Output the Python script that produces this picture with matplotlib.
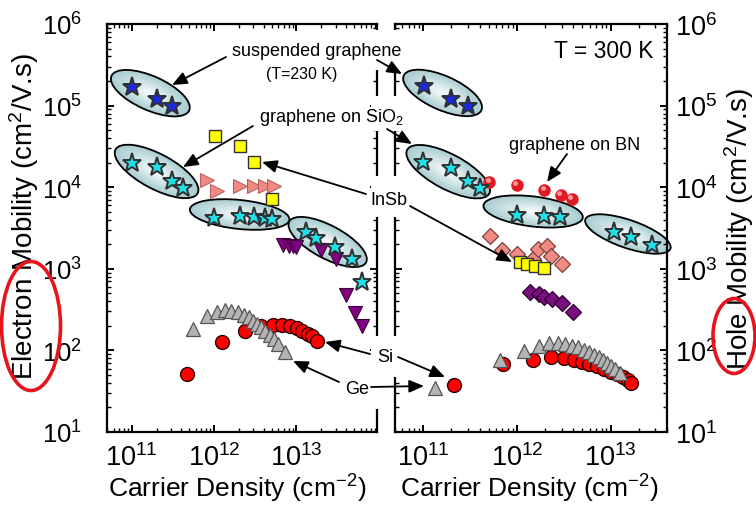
import numpy as np
import matplotlib
matplotlib.use('Agg')
import matplotlib.pyplot as plt
from matplotlib.patches import Ellipse, Rectangle, FancyArrowPatch
from matplotlib.transforms import IdentityTransform, ScaledTranslation
from matplotlib.colors import to_rgb

plt.rcParams['font.family'] = ['Liberation Sans', 'DejaVu Sans']
plt.rcParams['mathtext.fontset'] = 'custom'
plt.rcParams['mathtext.rm'] = 'Liberation Sans'
plt.rcParams['mathtext.it'] = 'Liberation Sans:italic'
plt.rcParams['mathtext.bf'] = 'Liberation Sans:bold'

# ---------------- data: electrons (left panel) ----------------
e_susp_n = [1.0e11, 2.05e11, 3.05e11]
e_susp_mu = [1.67e5, 1.2e5, 9.8e4]
e_sio2_n = [1.0e11, 2.05e11, 3.1e11, 4.2e11]
e_sio2_mu = [1.98e4, 1.75e4, 1.2e4, 9.8e3]
e_bn_n = [1.0e12, 2.04e12, 3.04e12, 4.1e12, 5.1e12]
e_bn_mu = [4.2e3, 4.4e3, 4.3e3, 4.2e3, 4.07e3]
e_hd_n = [1.32e13, 1.75e13, 2.9e13, 4.67e13, 6.3e13]
e_hd_mu = [2.82e3, 2.38e3, 1.85e3, 1.32e3, 6.9e2]
e_insb_n = [1.02e12, 2.06e12, 3.04e12, 5.08e12]
e_insb_mu = [4.2e4, 3.2e4, 2.05e4, 7.2e3]
e_pink_n = [8.2e11, 1.07e12, 2.04e12, 3.04e12, 4.1e12, 5.27e12]
e_pink_mu = [1.22e4, 9.1e3, 1.03e4, 1.03e4, 1.03e4, 1.03e4]
e_purp_n = [6.8e12, 8.1e12, 9.0e12, 1.0e13, 2.0e13, 3.0e13, 4.0e13, 5.1e13, 6.2e13]
e_purp_mu = [1.95e3, 1.92e3, 1.88e3, 1.85e3, 1.7e3, 1.32e3, 4.8e2, 2.9e2, 1.97e2]
e_ge_n = [5.47e11, 8.1e11, 1.07e12, 1.35e12, 1.62e12, 1.95e12, 2.3e12, 2.62e12,
          2.96e12, 3.35e12, 3.74e12, 4.18e12, 4.71e12, 5.27e12, 5.94e12, 7.16e12]
e_ge_mu = [183, 266, 293, 313, 308, 293, 274, 255, 231, 211, 192, 174, 155, 138, 120, 95]
e_si_n = [4.63e11, 1.25e12, 2.35e12, 3.74e12, 5.17e12, 6.71e12, 8.4e12, 1.01e13,
          1.17e13, 1.37e13, 1.55e13, 1.78e13]
e_si_mu = [51, 126, 174, 201, 207, 205, 197, 187, 174, 159, 149, 131]

# ---------------- data: holes (right panel) ----------------
h_susp_n = [1.01e11, 1.99e11, 2.98e11]
h_susp_mu = [1.73e5, 1.2e5, 9.8e4]
h_sio2_n = [1.0e11, 2.0e11, 3.0e11, 4.0e11]
h_sio2_mu = [2.02e4, 1.72e4, 1.2e4, 9.8e3]
h_bn_n = [1.0e12, 1.97e12, 2.9e12]
h_bn_mu = [4.6e3, 4.4e3, 4.27e3]
h_hd_n = [1.08e13, 1.67e13, 2.8e13]
h_hd_mu = [2.86e3, 2.43e3, 1.93e3]
h_red_n = [5.08e11, 1.0e12, 1.97e12, 2.96e12, 3.9e12]
h_red_mu = [1.15e4, 1.06e4, 9.2e3, 8.1e3, 7.2e3]
h_pink_n = [5.2e11, 6.9e11, 1.0e12, 1.5e12, 1.7e12, 2.08e12, 2.3e12, 3.0e12]
h_pink_mu = [2.55e3, 1.71e3, 1.52e3, 1.32e3, 1.73e3, 1.92e3, 1.45e3, 1.15e3]
h_insb_n = [1.08e12, 1.28e12, 1.57e12, 1.95e12]
h_insb_mu = [1.2e3, 1.15e3, 1.07e3, 1.01e3]
h_purp_n = [1.38e12, 1.74e12, 1.95e12, 2.39e12, 3.0e12, 4.0e12]
h_purp_mu = [524, 491, 455, 427, 381, 298]
h_ge_n = [1.32e11, 6.6e11, 1.18e12, 1.74e12, 2.22e12, 2.73e12, 3.27e12, 3.85e12, 4.52e12,
          5.2e12, 5.87e12, 6.64e12, 7.5e12, 8.3e12, 9.1e12, 1.0e13, 1.11e13, 1.26e13]
h_ge_mu = [35, 76, 99, 112, 122, 122, 120, 114, 109, 102, 95, 89, 83, 76, 70, 64, 59, 53]
h_si_n = [2.12e11, 7.1e11, 1.47e12, 2.32e12, 3.2e12, 4.1e12, 4.9e12, 5.9e12, 7.15e12,
          8.5e12, 1.0e13, 1.17e13, 1.35e13, 1.53e13, 1.67e13]
h_si_mu = [38, 68, 77, 82, 80, 76, 73, 68, 64, 60, 55, 51, 47, 43.5, 40]

# highlight ellipses: centre (n, mu)
e_ell_n = [1.68e11, 2.0e11, 2.04e12, 2.39e13]
e_ell_mu = [1.42e5, 1.56e4, 4.63e3, 2.13e3]
h_ell_n = [1.61e11, 1.85e11, 1.49e12, 1.53e13]
h_ell_mu = [1.43e5, 1.55e4, 5.04e3, 2.67e3]
# sizes (px) and tilt (deg)
e_ell_shape = [(85, 34, -24), (93, 35, -28), (100, 29, -6), (87, 33, -28)]
h_ell_shape = [(85, 34, -24), (93, 35, -28), (100, 30, -7), (90, 28, -19)]

W, H = 756, 506
fig = plt.figure(figsize=(W / 100, H / 100), dpi=100)
ax1 = fig.add_axes([107 / W, 1 - 433 / H, 270 / W, 408 / H])
ax2 = fig.add_axes([395 / W, 1 - 433 / H, 272 / W, 408 / H])

for ax in (ax1, ax2):
    ax.set_xscale('log')
    ax.set_yscale('log')
    ax.set_ylim(10, 1e6)
    for s in ax.spines.values():
        s.set_linewidth(1.6)
    ax.tick_params(which='both', direction='in', top=True, bottom=True,
                   left=True, right=True, labelsize=19.5)
    ax.tick_params(which='major', length=5, width=1.4)
    ax.tick_params(which='minor', length=2.6, width=1.0)
    ax.tick_params(axis='x', pad=8)
ax1.set_xlim(5e10, 9.5e13)
ax2.set_xlim(5e10, 4e13)
ax1.tick_params(axis='y', labelsize=18.5, pad=18)
ax2.tick_params(axis='y', labelleft=False, labelright=True, pad=6)
ax2.yaxis.set_label_position('right')

ax1.set_xlabel('Carrier Density (cm$^{-2}$)', fontsize=19)
ax2.set_xlabel('Carrier Density (cm$^{-2}$)', fontsize=19)
ax1.xaxis.set_label_coords(0.481, -0.098)
ax2.xaxis.set_label_coords(0.493, -0.098)
ax1.set_ylabel('Electron Mobility (cm$^2$/V.s)', fontsize=20)
ax2.set_ylabel('Hole Mobility (cm$^2$/V.s)', fontsize=20)
ax1.yaxis.set_label_coords(-0.245, 0.53)
ax2.yaxis.set_label_coords(1.202, 0.5)

edge_c = np.array(to_rgb('#a9cdd1'))
cent_c = np.array(to_rgb('#f2f8f8'))


def draw_ellipse(ax, n, mu, shape):
    w, h, ang = shape
    cx, cy = ax.transData.transform((n, mu))
    steps = 14
    for i in range(steps):
        t = i / (steps - 1)
        s = 1 - 0.88 * t
        col = edge_c * (1 - t) + cent_c * t
        ax.add_patch(Ellipse((cx, cy), w * s, h * s, angle=ang, transform=IdentityTransform(),
                             facecolor=col, edgecolor='none', zorder=1, clip_on=False))
    ax.add_patch(Ellipse((cx, cy), w, h, angle=ang, transform=IdentityTransform(),
                         facecolor='none', edgecolor='black', lw=1.3, zorder=1.5, clip_on=False))


for n, mu, sh in zip(e_ell_n, e_ell_mu, e_ell_shape):
    draw_ellipse(ax1, n, mu, sh)
for n, mu, sh in zip(h_ell_n, h_ell_mu, h_ell_shape):
    draw_ellipse(ax2, n, mu, sh)

star_kw = dict(ls='none', marker='*', ms=14, mec='#303030', mew=1.4, zorder=5)
blue = '#1a2be0'
cyan = '#20e0ea'

# left panel
ax1.plot(e_pink_n, e_pink_mu, ls='none', marker='>', ms=10, mfc='#f28a84', mec='#b86060', mew=0.8, zorder=3)
ax1.plot(e_insb_n, e_insb_mu, ls='none', marker='s', ms=8.5, mfc='#ffff00', mec='#303030', mew=1.0, zorder=3)
ax1.plot(e_purp_n, e_purp_mu, ls='none', marker='v', ms=10, mfc='#800080', mec='#3a003a', mew=0.8, zorder=3)
ax1.plot(e_susp_n, e_susp_mu, mfc=blue, **star_kw)
ax1.plot(e_sio2_n, e_sio2_mu, mfc=cyan, **star_kw)
ax1.plot(e_bn_n, e_bn_mu, mfc=cyan, **star_kw)
ax1.plot(e_hd_n, e_hd_mu, mfc=cyan, **star_kw)
ax1.plot(e_si_n, e_si_mu, ls='none', marker='o', ms=10, mfc='#ff0000', mec='#300000', mew=1.0, zorder=3)
ax1.plot(e_ge_n, e_ge_mu, ls='none', marker='^', ms=10, mfc='#b4b4b4', mec='#555555', mew=0.9, zorder=4)

# right panel
hl = ax2.transData + ScaledTranslation(-1.3 / 72, 1.3 / 72, fig.dpi_scale_trans)
ax2.plot(h_red_n, h_red_mu, ls='none', marker='o', ms=9, mfc='#e01a22', mec='none', zorder=3)
ax2.plot(h_red_n, h_red_mu, ls='none', marker='o', ms=3.5, mfc='#ff9a9a', mec='none', zorder=3, transform=hl)
ax2.plot(h_pink_n, h_pink_mu, ls='none', marker='D', ms=8.5, mfc='#f28a84', mec='#7a4040', mew=0.9, zorder=3)
ax2.plot(h_insb_n, h_insb_mu, ls='none', marker='s', ms=8.5, mfc='#ffff00', mec='#303030', mew=1.0, zorder=3)
ax2.plot(h_purp_n, h_purp_mu, ls='none', marker='D', ms=8.5, mfc='#7b0f82', mec='#2a002a', mew=0.9, zorder=3)
ax2.plot(h_susp_n, h_susp_mu, mfc=blue, **star_kw)
ax2.plot(h_sio2_n, h_sio2_mu, mfc=cyan, **star_kw)
ax2.plot(h_bn_n, h_bn_mu, mfc=cyan, **star_kw)
ax2.plot(h_hd_n, h_hd_mu, mfc=cyan, **star_kw)
ax2.plot(h_si_n, h_si_mu, ls='none', marker='o', ms=10, mfc='#ff0000', mec='#300000', mew=1.0, zorder=3)
ax2.plot(h_ge_n, h_ge_mu, ls='none', marker='^', ms=10, mfc='#b4b4b4', mec='#555555', mew=0.9, zorder=4)


# ---------------- annotations (figure pixels, y from top) ----------------
def white_box(x0, y0, x1, y1):
    fig.add_artist(Rectangle((x0, H - y1), x1 - x0, y1 - y0, transform=IdentityTransform(),
                             facecolor='white', edgecolor='none', zorder=5))


def arrow(x0, y0, x1, y1):
    fig.add_artist(FancyArrowPatch(posA=(x0, H - y0), posB=(x1, H - y1), transform=IdentityTransform(),
                                   arrowstyle='-|>,head_length=0.75,head_width=0.32', mutation_scale=12,
                                   lw=1.3, color='black', shrinkA=0, shrinkB=0, zorder=6))


def label(x, y, s, size=13, ha='center'):
    fig.text(x / W, 1 - y / H, s, ha=ha, va='center', fontsize=size, zorder=7)


white_box(371, 31, 402, 71)
white_box(371, 97, 402, 132)
white_box(371, 177, 402, 218)
white_box(371, 337, 402, 378)
white_box(371, 378, 384, 410)

label(232, 52, 'suspended graphene', ha='left')
label(302, 74, '(T=230 K)', size=11.5)
label(259, 117, 'graphene on SiO$_2$', ha='left')
label(389, 201, 'InSb')
label(575, 145, 'graphene on BN')
label(653, 51, 'T = 300 K', size=16.5, ha='right')
label(385, 358, 'Si')
label(357, 390, 'Ge')

arrow(226, 58, 172, 86)
arrow(377, 61, 402, 75)
arrow(253, 127, 183, 168)
arrow(387, 130, 412, 145)
arrow(366, 195, 262, 163)
arrow(410, 207, 512, 263)
arrow(567, 155, 547, 183)
arrow(370, 355, 325, 343)
arrow(398, 358, 445, 378)
arrow(339, 383, 293, 362)
arrow(371, 388, 424, 387)

# red highlight ellipses around "Electron" and "Hole"
fig.add_artist(Ellipse((31, H - 327), 59, 129, transform=IdentityTransform(),
                       facecolor='none', edgecolor='#e8141c', lw=2.6, zorder=8))
fig.add_artist(Ellipse((734, H - 337), 42, 75, transform=IdentityTransform(),
                       facecolor='none', edgecolor='#e8141c', lw=2.6, zorder=8))

fig.savefig('out.png', dpi=100)
